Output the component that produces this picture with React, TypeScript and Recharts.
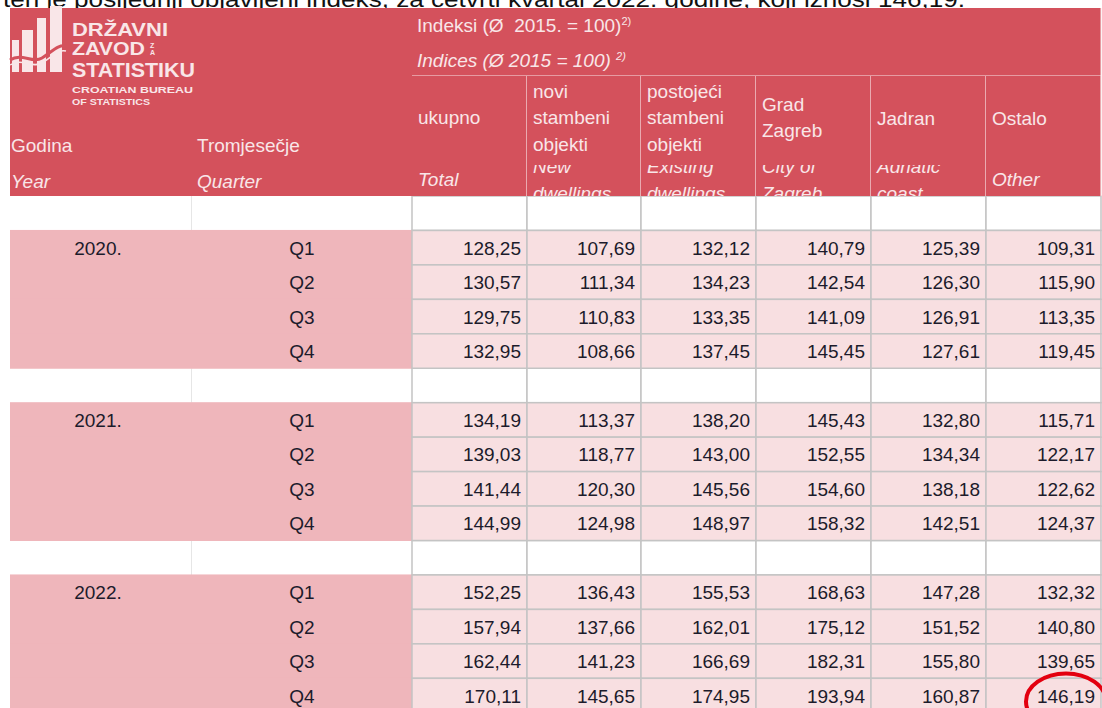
import React from 'react';
import { ScatterChart, Scatter, XAxis, YAxis } from 'recharts';

// price indices of residential property, Ø 2015 = 100
const YEARS = ['2020.', '2021.', '2022.'];
const QUARTERS = ['Q1', 'Q2', 'Q3', 'Q4'];

const UKUPNO = [128.25, 130.57, 129.75, 132.95, 134.19, 139.03, 141.44, 144.99, 152.25, 157.94, 162.44, 170.11];
const NOVI = [107.69, 111.34, 110.83, 108.66, 113.37, 118.77, 120.3, 124.98, 136.43, 137.66, 141.23, 145.65];
const POSTOJECI = [132.12, 134.23, 133.35, 137.45, 138.2, 143.0, 145.56, 148.97, 155.53, 162.01, 166.69, 174.95];
const ZAGREB = [140.79, 142.54, 141.09, 145.45, 145.43, 152.55, 154.6, 158.32, 168.63, 175.12, 182.31, 193.94];
const JADRAN = [125.39, 126.3, 126.91, 127.61, 132.8, 134.34, 138.18, 142.51, 147.28, 151.52, 155.8, 160.87];
const OSTALO = [109.31, 115.9, 113.35, 119.45, 115.71, 122.17, 122.62, 124.37, 132.32, 140.8, 139.65, 146.19];

const SERIES = [UKUPNO, NOVI, POSTOJECI, ZAGREB, JADRAN, OSTALO];

const HR_HEADERS = [['ukupno'], ['novi', 'stambeni', 'objekti'], ['postojeći', 'stambeni', 'objekti'], ['Grad', 'Zagreb'], ['Jadran'], ['Ostalo']];
const EN_HEADERS = [['Total'], ['New', 'dwellings'], ['Existing', 'dwellings'], ['City of', 'Zagreb'], ['Adriatic', 'coast'], ['Other']];

const INTRO = 'ten je posljednji objavljeni indeks, za četvrti kvartal 2022. godine, koji iznosi 146,19.';

// layout
const W = 1102;
const H = 712;
const COL_X = [10, 192, 412, 527, 641, 756, 871, 986, 1101];
const HEAD_TOP = 8;
const HEAD_MID = 76;
const ROW_TOP = 196;
const ROW_H = 34.45;
const HR_BASE = [[48], [22, 48, 75], [22, 48, 75], [35, 61], [49], [49]];
const EN_BASE = [[110], [97, 124], [97, 124], [97, 124], [97, 124], [110]];
const EN_CLIP = 89;

const FONT = '"Liberation Sans", Arial, sans-serif';
const RED = '#d4515c';
const STUB = '#efb6bb';
const CELL = '#f8dfe1';
const GRID = '#c4c4c4';
const HEAD_TXT = '#f9e6e8';
const INK = '#1c1b2b';

const fmt = (v: number) => v.toFixed(2).replace('.', ',');
const colCenter = (c: number) => (COL_X[c] + COL_X[c + 1]) / 2;
const colWidth = (c: number) => COL_X[c + 1] - COL_X[c];
const rowCenter = (r: number) => ROW_TOP + ROW_H * (r + 0.5);

type RowDef = { blank: boolean; year: string; q: string; idx: number };
const rows: RowDef[] = [];
YEARS.forEach((yr, yi) => {
  rows.push({ blank: true, year: '', q: '', idx: -1 });
  QUARTERS.forEach((q, qi) => rows.push({ blank: false, year: qi === 0 ? yr : '', q, idx: yi * 4 + qi }));
});

const stubX = (COL_X[0] + COL_X[2]) / 2;
const stubData = rows
  .map((row, r) => ({ row, r }))
  .filter(d => !d.row.blank)
  .map(({ row, r }) => ({
    x: stubX,
    y: rowCenter(r),
    w: COL_X[2] - COL_X[0],
    year: row.year,
    q: row.q,
    yearDx: colCenter(0) - stubX - 3,
    qDx: colCenter(1) - stubX,
  }));

const blankData = rows
  .map((row, r) => ({ row, r }))
  .filter(d => d.row.blank)
  .flatMap(({ r }) => COL_X.slice(0, -1).map((_, c) => ({ x: colCenter(c), y: rowCenter(r), w: colWidth(c), col: c })));

const valueData = rows
  .map((row, r) => ({ row, r }))
  .filter(d => !d.row.blank)
  .flatMap(({ row, r }) =>
    SERIES.map((s, si) => ({ x: colCenter(si + 2), y: rowCenter(r), w: colWidth(si + 2), label: fmt(s[row.idx]) }))
  );

const headerData = [
  { kind: 'stub', x: stubX, y: (HEAD_TOP + ROW_TOP) / 2, w: COL_X[2] - COL_X[0], h: ROW_TOP - HEAD_TOP, col: -1 },
  { kind: 'band', x: (COL_X[2] + COL_X[8]) / 2, y: (HEAD_TOP + HEAD_MID) / 2, w: COL_X[8] - COL_X[2], h: HEAD_MID - HEAD_TOP, col: -1 },
  ...HR_HEADERS.map((_, i) => ({
    kind: 'col',
    x: colCenter(i + 2),
    y: (HEAD_MID + ROW_TOP) / 2,
    w: colWidth(i + 2),
    h: ROW_TOP - HEAD_MID,
    col: i,
  })),
];

const lastIdx = OSTALO.length - 1;
const highlightData = [{ x: colCenter(7), y: rowCenter(rows.findIndex(r => r.idx === lastIdx)), w: colWidth(7) }];

const Logo = ({ left, top }: { left: number; top: number }) => {
  const bars = [
    [2, 32, 7, 32],
    [12, 22, 11, 42],
    [27, 10, 9, 54],
    [40, -2, 12, 66],
  ];
  return (
    <g>
      {bars.map((b, i) => (
        <rect key={i} x={left + b[0]} y={top + b[1]} width={b[2]} height={b[3]} fill={HEAD_TXT} />
      ))}
      <path
        d={`M${left} ${top + 52} C ${left + 12} ${top + 44}, ${left + 22} ${top + 56}, ${left + 32} ${top + 50} S ${left + 48} ${top + 36}, ${left + 56} ${top + 38}`}
        stroke={RED}
        strokeWidth={3}
        fill="none"
      />
      <path
        d={`M${left} ${top + 57} C ${left + 12} ${top + 49}, ${left + 22} ${top + 61}, ${left + 32} ${top + 55} S ${left + 48} ${top + 41}, ${left + 56} ${top + 43}`}
        stroke={HEAD_TXT}
        strokeWidth={1.5}
        fill="none"
      />
      <g fill={HEAD_TXT} fontFamily={FONT} fontWeight="bold">
        <text x={left + 62} y={top + 28} fontSize={19} textLength={96} lengthAdjust="spacingAndGlyphs">DRŽAVNI</text>
        <text x={left + 62} y={top + 47} fontSize={18} textLength={73} lengthAdjust="spacingAndGlyphs">ZAVOD</text>
        <text x={left + 140} y={top + 40} fontSize={7}>Z</text>
        <text x={left + 140} y={top + 47} fontSize={7}>A</text>
        <text x={left + 62} y={top + 69} fontSize={21} textLength={123} lengthAdjust="spacingAndGlyphs">STATISTIKU</text>
        <text x={left + 62} y={top + 85} fontSize={9.5} textLength={121} lengthAdjust="spacingAndGlyphs">CROATIAN BUREAU</text>
        <text x={left + 62} y={top + 97} fontSize={9.5} textLength={78} lengthAdjust="spacingAndGlyphs">OF STATISTICS</text>
      </g>
    </g>
  );
};

const HeaderShape = (props: any) => {
  const { cx, cy, payload } = props;
  const x0 = cx - payload.w / 2;
  const y0 = cy - payload.h / 2;
  if (payload.kind === 'stub') {
    return (
      <g>
        <rect x={x0} y={y0} width={payload.w} height={payload.h} fill={RED} />
        <Logo left={x0} top={y0} />
        <g fill={HEAD_TXT} fontFamily={FONT} fontSize={19}>
          <text x={x0 + 1} y={y0 + 144}>Godina</text>
          <text x={x0 + 1} y={y0 + 180} fontStyle="italic">Year</text>
          <text x={COL_X[1] + 5} y={y0 + 144}>Tromjesečje</text>
          <text x={COL_X[1] + 5} y={y0 + 180} fontStyle="italic">Quarter</text>
        </g>
      </g>
    );
  }
  if (payload.kind === 'band') {
    return (
      <g>
        <rect x={x0} y={y0} width={payload.w} height={payload.h} fill={RED} />
        <line x1={x0} x2={x0 + payload.w} y1={y0 + payload.h} y2={y0 + payload.h} stroke={HEAD_TXT} strokeWidth={1} />
        <line x1={x0 + payload.w} x2={x0 + payload.w} y1={y0} y2={y0 + payload.h} stroke={HEAD_TXT} strokeWidth={1} />
        <g fill={HEAD_TXT} fontFamily={FONT}>
          <text x={x0 + 5} y={y0 + 24} fontSize={19}>
            {'Indeksi (Ø\u00a0 2015. = 100)'}
            <tspan fontSize={11} dy={-7}>2)</tspan>
          </text>
          <text x={x0 + 5} y={y0 + 59} fontSize={19} fontStyle="italic">
            {'Indices (Ø 2015 = 100)\u00a0'}
            <tspan fontSize={11} dy={-7}>2)</tspan>
          </text>
        </g>
      </g>
    );
  }
  const c = payload.col;
  const clipId = `en-clip-${c}`;
  const multi = EN_HEADERS[c].length > 1;
  return (
    <g>
      <defs>
        <clipPath id={clipId}>
          <rect x={x0} y={multi ? y0 + EN_CLIP : y0} width={payload.w} height={multi ? payload.h - EN_CLIP : payload.h} />
        </clipPath>
      </defs>
      <rect x={x0} y={y0} width={payload.w} height={payload.h} fill={RED} />
      <line x1={x0 + payload.w} x2={x0 + payload.w} y1={y0} y2={y0 + payload.h} stroke={HEAD_TXT} strokeWidth={1.2} />
      <g fill={HEAD_TXT} fontFamily={FONT} fontSize={19}>
        {HR_HEADERS[c].map((t, i) => (
          <text key={t + i} x={x0 + 6} y={y0 + HR_BASE[c][i]}>{t}</text>
        ))}
        <g clipPath={`url(#${clipId})`}>
          {EN_HEADERS[c].map((t, i) => (
            <text key={t + i} x={x0 + 6} y={y0 + EN_BASE[c][i]} fontStyle="italic">{t}</text>
          ))}
        </g>
      </g>
    </g>
  );
};

const StubShape = (props: any) => {
  const { cx, cy, payload } = props;
  return (
    <g>
      <rect x={cx - payload.w / 2} y={cy - ROW_H / 2 - 0.5} width={payload.w} height={ROW_H + 1} fill={STUB} />
      <g fill={INK} fontFamily={FONT} fontSize={19} textAnchor="middle">
        {payload.year && <text x={cx + payload.yearDx} y={cy + 7}>{payload.year}</text>}
        <text x={cx + payload.qDx} y={cy + 7}>{payload.q}</text>
      </g>
    </g>
  );
};

const BlankShape = (props: any) => {
  const { cx, cy, payload } = props;
  const x0 = cx - payload.w / 2;
  const y0 = cy - ROW_H / 2;
  if (payload.col === 0) {
    return (
      <g>
        <rect x={x0} y={y0} width={payload.w} height={ROW_H} fill="#fff" />
        <line x1={x0 + payload.w} x2={x0 + payload.w} y1={y0} y2={y0 + ROW_H} stroke="#dedede" strokeWidth={1.5} />
      </g>
    );
  }
  if (payload.col === 1) {
    return <rect x={x0} y={y0} width={payload.w} height={ROW_H} fill="#fff" />;
  }
  return <rect x={x0} y={y0} width={payload.w} height={ROW_H} fill="#fff" stroke={GRID} strokeWidth={1.5} />;
};

const ValueShape = (props: any) => {
  const { cx, cy, payload } = props;
  const x0 = cx - payload.w / 2;
  return (
    <g>
      <rect x={x0} y={cy - ROW_H / 2} width={payload.w} height={ROW_H} fill={CELL} stroke={GRID} strokeWidth={1.5} />
      <text x={x0 + payload.w - 6} y={cy + 7} textAnchor="end" fill={INK} fontFamily={FONT} fontSize={19}>
        {payload.label}
      </text>
    </g>
  );
};

const HighlightShape = (props: any) => {
  const { cx, cy, payload } = props;
  return <ellipse cx={cx + payload.w / 2 - 35} cy={cy + 6} rx={40} ry={28} fill="none" stroke="#e3000f" strokeWidth={4} />;
};

export default function App() {
  return (
    <div style={{ position: 'absolute', left: 0, top: 0, width: W, height: 708, overflow: 'hidden', background: '#fff' }}>
      <ScatterChart width={W} height={H} margin={{ top: 0, right: 0, bottom: 0, left: 0 }}>
        <XAxis type="number" dataKey="x" domain={[0, W]} hide />
        <YAxis type="number" dataKey="y" domain={[0, H]} reversed hide />
        <text x={3} y={7} fontFamily={FONT} fontSize={22} fill="#111" textLength={962} lengthAdjust="spacingAndGlyphs">
          {INTRO}
        </text>
        <Scatter data={blankData} shape={BlankShape} isAnimationActive={false} />
        <Scatter data={stubData} shape={StubShape} isAnimationActive={false} />
        <Scatter data={valueData} shape={ValueShape} isAnimationActive={false} />
        <Scatter data={headerData} shape={HeaderShape} isAnimationActive={false} />
        <Scatter data={highlightData} shape={HighlightShape} isAnimationActive={false} />
        <line x1={COL_X[2]} x2={COL_X[2]} y1={HEAD_TOP} y2={H} stroke="#a3a3a3" strokeWidth={1.5} />
      </ScatterChart>
    </div>
  );
}
